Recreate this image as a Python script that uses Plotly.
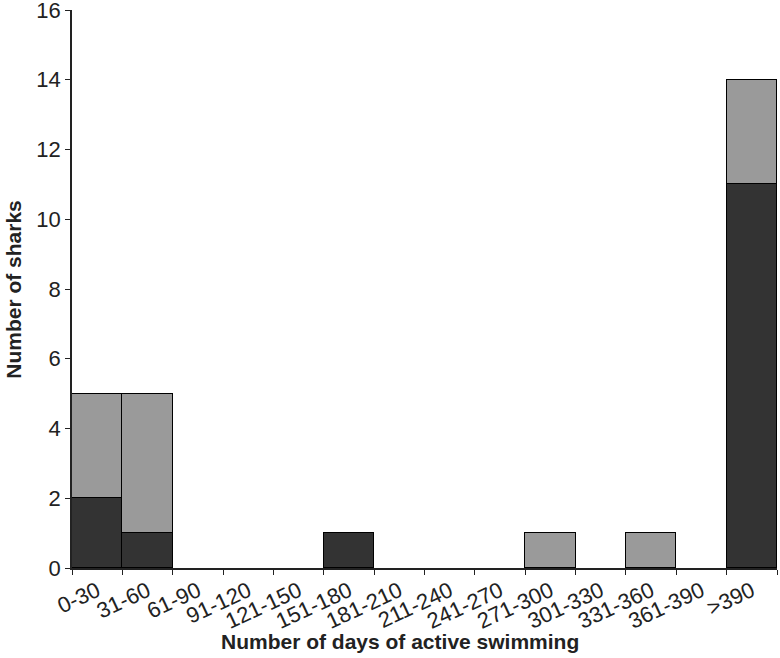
import plotly.graph_objects as go

categories = ["0-30", "31-60", "61-90", "91-120", "121-150", "151-180", "181-210",
              "211-240", "241-270", "271-300", "301-330", "331-360", "361-390", ">390"]
dark_values = [2, 1, 0, 0, 0, 1, 0, 0, 0, 0, 0, 0, 0, 11]
gray_values = [3, 4, 0, 0, 0, 0, 0, 0, 0, 1, 0, 1, 0, 3]
y_ticks = [0, 2, 4, 6, 8, 10, 12, 14, 16]

def nz(vals):
    return [v if v else None for v in vals]

fig = go.Figure()
fig.add_trace(go.Bar(x=categories, y=nz(dark_values), marker=dict(color="#333333", line=dict(color="#000000", width=1)), showlegend=False, hoverinfo="skip"))
fig.add_trace(go.Bar(x=categories, y=nz(gray_values), marker=dict(color="#9a9a9a", line=dict(color="#000000", width=1)), showlegend=False, hoverinfo="skip"))

font = "Liberation Sans, Arial, sans-serif"
fig.update_layout(
    barmode="stack", bargap=0,
    width=780, height=658,
    margin=dict(l=72, r=3, t=10, b=90, autoexpand=False),
    plot_bgcolor="white", paper_bgcolor="white",
    font=dict(family=font, size=21, color="#222222"),
    annotations=[
        dict(text="<b>Number of days of active swimming</b>", xref="paper", yref="paper",
             x=0.465, y=-0.1324, xanchor="center", yanchor="middle", showarrow=False,
             font=dict(size=21, color="#222222")),
        dict(text="<b>Number of sharks</b>", xref="paper", yref="paper", textangle=-90,
             x=-0.084, y=0.5, xanchor="center", yanchor="middle", showarrow=False,
             font=dict(size=21, color="#222222")),
    ],
)
fig.update_xaxes(
    type="category", tickson="boundaries", ticks="outside", ticklen=5, tickcolor="#222222",
    showline=True, linecolor="#222222", linewidth=1.5, showgrid=False,
    tickangle=-25, tickfont=dict(size=22), automargin=False,
)
fig.update_yaxes(
    range=[0, 16], tickvals=y_ticks, ticks="outside", ticklen=5, tickcolor="#222222",
    showline=True, linecolor="#222222", linewidth=1.5, showgrid=False, zeroline=False,
    tickfont=dict(size=22), automargin=False, ticklabeloverflow="allow",
)
fig.write_html("out.html", config={"displayModeBar": False},
               post_script="document.body.style.margin='0';")
